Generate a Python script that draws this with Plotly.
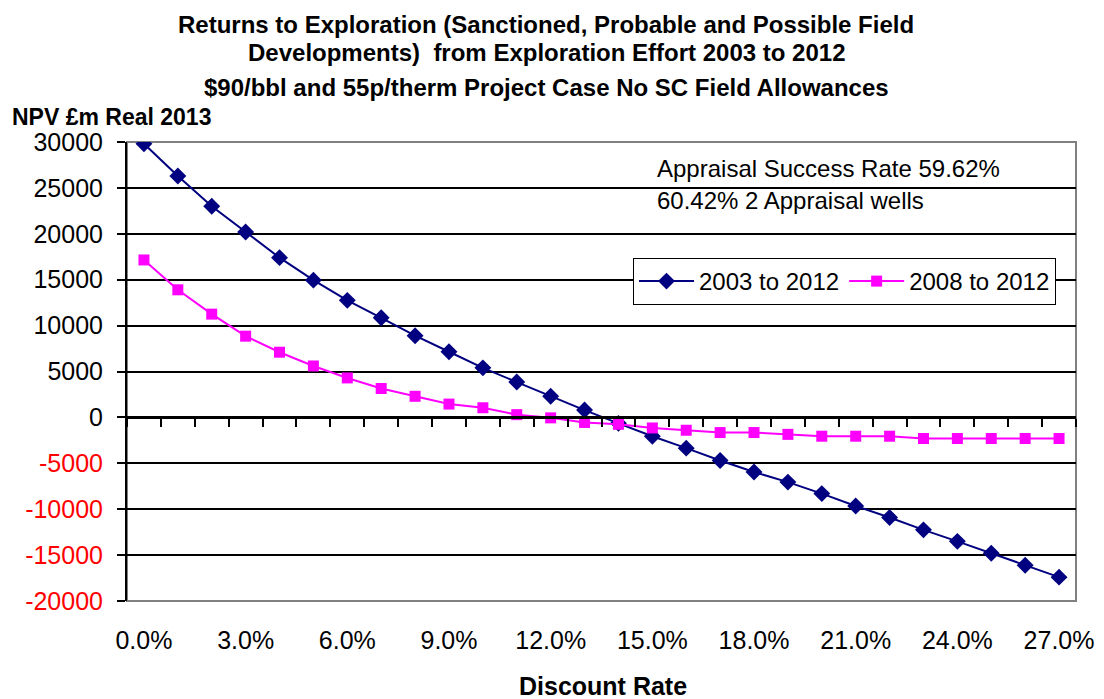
import plotly.graph_objects as go

# ---- data ----
rates = list(range(28))  # discount rate, percent
rate_tick_rates = [0, 3, 6, 9, 12, 15, 18, 21, 24, 27]
rate_tick_labels = [f"{r:.1f}%" for r in rate_tick_rates]

npv_2003_2012 = [29800, 26300, 23000, 20200, 17400, 14950, 12750, 10850, 8900, 7150,
                 5400, 3850, 2300, 800, -650, -2050, -3350, -4700, -5950, -7050,
                 -8300, -9650, -10900, -12250, -13500, -14800, -16100, -17400]
npv_2008_2012 = [17150, 13900, 11250, 8850, 7100, 5600, 4300, 3150, 2300, 1450,
                 1050, 300, -50, -550, -750, -1150, -1400, -1650, -1650, -1850,
                 -2050, -2050, -2050, -2300, -2300, -2300, -2300, -2300]

y_ticks = [30000, 25000, 20000, 15000, 10000, 5000, 0, -5000, -10000, -15000, -20000]
series_names = ["2003 to 2012", "2008 to 2012"]

FONT = "Liberation Sans, Arial, sans-serif"

y_ticktext = [str(v) if v >= 0 else f'<span style="color:#FF0000">{v}</span>' for v in y_ticks]
boundaries = [r - 0.5 for r in rates] + [rates[-1] + 0.5]

# page is drawn with an 8px body margin; design in page pixels
OFF = 8
PL, PR, PT, PB = 127, 1076, 142, 601  # plot area in page pixels
PW, PH = PR - PL, PB - PT


def px_x(x):
    return (x - PL) / PW


def px_y(y):
    return (PB - y) / PH


fig = go.Figure()
fig.add_trace(go.Scatter(
    x=rates, y=npv_2003_2012, name=series_names[0], mode="lines+markers",
    line=dict(color="#000080", width=2),
    marker=dict(symbol="diamond", size=13, color="#000080"),
))
fig.add_trace(go.Scatter(
    x=rates, y=npv_2008_2012, name=series_names[1], mode="lines+markers",
    line=dict(color="#FF00FF", width=2),
    marker=dict(symbol="square", size=11, color="#FF00FF"),
))
# carrier for the bottom label axis
fig.add_trace(go.Scatter(
    x=[rates[0]], y=[0], xaxis="x2", mode="markers", marker=dict(opacity=0),
    showlegend=False, hoverinfo="skip",
))

fig.update_layout(
    width=1104 - OFF, height=699 - OFF,
    margin=dict(l=PL - OFF, r=1104 - PR, t=PT - OFF, b=699 - PB, autoexpand=False),
    paper_bgcolor="white", plot_bgcolor="white",
    font=dict(family=FONT, color="black", size=20),
    showlegend=True,
    legend=dict(
        orientation="h", x=px_x(633), y=px_y(258), xanchor="left", yanchor="top",
        bordercolor="black", borderwidth=1, bgcolor="white",
        font=dict(size=24, family=FONT), itemwidth=55,
    ),
    xaxis=dict(
        range=[-0.5, 27.5], anchor="free", position=0.4,
        showline=True, linecolor="black", linewidth=3,
        ticks="outside", ticklen=8, tickwidth=2, tickcolor="black",
        tickmode="array", tickvals=boundaries, showticklabels=False,
        showgrid=False, zeroline=False,
    ),
    xaxis2=dict(
        range=[-0.5, 27.5], overlaying="x", anchor="y", side="bottom",
        tickmode="array", tickvals=rate_tick_rates, ticktext=rate_tick_labels,
        ticks="", showline=False, showgrid=False, zeroline=False,
        tickfont=dict(size=25, family=FONT), ticklabelstandoff=22,
    ),
    yaxis=dict(
        range=[-20000, 30000], tickmode="array", tickvals=y_ticks, ticktext=y_ticktext,
        ticks="outside", ticklen=8, tickwidth=2, tickcolor="black",
        showline=True, linecolor="black", linewidth=2,
        showgrid=True, gridcolor="black", gridwidth=1.5, zeroline=False,
        tickfont=dict(size=25, family=FONT), ticklabelstandoff=9,
    ),
    shapes=[dict(type="rect", xref="paper", yref="paper", x0=0, x1=1, y0=0, y1=1,
                 line=dict(color="#808080", width=2), layer="below")],
)

title_lines = [
    "Returns to Exploration (Sanctioned, Probable and Possible Field",
    "Developments)  from Exploration Effort 2003 to 2012",
    "$90/bbl and 55p/therm Project Case No SC Field Allowances",
]
# first line hangs from the top edge of the figure, others centred on their rows
fig.add_annotation(text=f"<b>{title_lines[0]}</b>", xref="paper", yref="paper",
                   x=px_x(546), y=px_y(OFF + 1), xanchor="center", yanchor="top",
                   showarrow=False, font=dict(size=24, family=FONT))
for line, ypx in zip(title_lines[1:], [52, 87]):
    fig.add_annotation(text=f"<b>{line}</b>", xref="paper", yref="paper",
                       x=px_x(546), y=px_y(ypx),
                       xanchor="center", yanchor="middle", showarrow=False,
                       font=dict(size=24, family=FONT))

fig.add_annotation(text="<b>NPV £m Real 2013</b>", xref="paper", yref="paper",
                   x=px_x(10), y=px_y(117), xanchor="left", yanchor="middle",
                   showarrow=False, font=dict(size=23, family=FONT))
fig.add_annotation(text="<b>Discount Rate</b>", xref="paper", yref="paper",
                   x=px_x(603), y=px_y(686), xanchor="center", yanchor="middle",
                   showarrow=False, font=dict(size=25, family=FONT))
fig.add_annotation(text="Appraisal Success Rate 59.62%", xref="paper", yref="paper",
                   x=px_x(655), y=px_y(168), xanchor="left", yanchor="middle",
                   showarrow=False, font=dict(size=24, family=FONT))
fig.add_annotation(text="60.42% 2 Appraisal wells", xref="paper", yref="paper",
                   x=px_x(655), y=px_y(200), xanchor="left", yanchor="middle",
                   showarrow=False, font=dict(size=24, family=FONT))

fig.write_html("out.html")
